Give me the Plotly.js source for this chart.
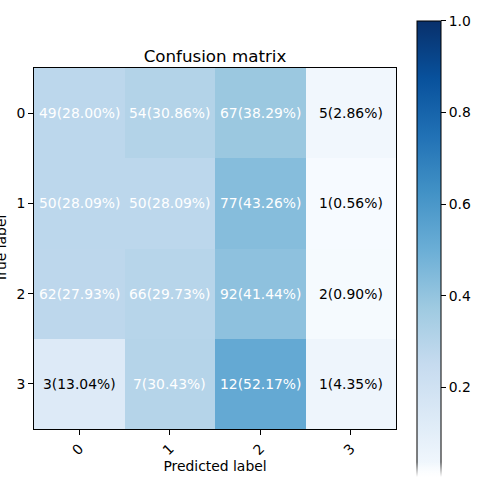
<!DOCTYPE html>
<html><head><meta charset="utf-8">
<script src="https://cdn.plot.ly/plotly-3.0.1.min.js"></script>
<style>body{margin:0;padding:0;background:#fff}#wrap{position:relative;width:500px;height:500px}#chart{width:500px;height:500px}
#fade{position:absolute;left:405px;top:462px;width:50px;height:38px;background:linear-gradient(to bottom,rgba(255,255,255,0) 0px,rgba(255,255,255,1) 15px);pointer-events:none}</style>
</head><body><div id="wrap"><div id="chart"></div><div id="fade"></div></div>
<script>
const classes = ['0','1','2','3'];
const counts = [
  [49, 54, 67, 5],
  [50, 50, 77, 1],
  [62, 66, 92, 2],
  [3, 7, 12, 1]
];
const percents = [
  [28.00, 30.86, 38.29, 2.86],
  [28.09, 28.09, 43.26, 0.56],
  [27.93, 29.73, 41.44, 0.90],
  [13.04, 30.43, 52.17, 4.35]
];
const cbTicks = [0.2, 0.4, 0.6, 0.8, 1.0];

const blues = [
  [0.0, '#f7fbff'], [0.125, '#deebf7'], [0.25, '#c6dbef'], [0.375, '#9ecae1'],
  [0.5, '#6baed6'], [0.625, '#4292c6'], [0.75, '#2171b5'], [0.875, '#08519c'], [1.0, '#08306b']
];
const z = percents.map(r => r.map(v => v / 100));
let maxv = 0; z.forEach(r => r.forEach(v => { if (v > maxv) maxv = v; }));
const thresh = maxv / 2;
const idx = classes.map((c, i) => i);
const FS = 13.9;
const annotations = [];
z.forEach((row, i) => row.forEach((v, j) => {
  annotations.push({
    x: j, y: i, xref: 'x', yref: 'y', showarrow: false,
    text: counts[i][j] + '(' + percents[i][j].toFixed(2) + '%)',
    font: {family: 'DejaVu Sans', size: FS, color: v > thresh ? '#ffffff' : '#000000'}
  });
}));
annotations.push({
  text: 'True label', xref: 'paper', yref: 'paper', x: -0.092, y: 0.5,
  xanchor: 'center', yanchor: 'middle', textangle: -90, showarrow: false,
  font: {family: 'DejaVu Sans', size: FS, color: '#000'}
});

const trace = {
  type: 'heatmap', z: z, x: idx, y: idx,
  zmin: 0, zmax: 1, colorscale: blues, hoverinfo: 'skip',
  colorbar: {
    thickness: 24, thicknessmode: 'pixels', len: 1.269, lenmode: 'fraction',
    x: 1.058, xanchor: 'left', y: 0.496, yanchor: 'middle', xpad: 0, ypad: 0,
    outlinewidth: 1, outlinecolor: '#000',
    tickvals: cbTicks, ticktext: cbTicks.map(v => v.toFixed(1)),
    ticks: 'outside', ticklen: 5, tickcolor: '#000',
    tickfont: {family: 'DejaVu Sans', size: FS, color: '#000'}
  }
};

const layout = {
  width: 500, height: 500,
  margin: {l: 34, r: 104, t: 68, b: 71},
  paper_bgcolor: '#fff', plot_bgcolor: '#fff',
  font: {family: 'DejaVu Sans', color: '#000'},
  title: {text: 'Confusion matrix', font: {size: 16.7, family: 'DejaVu Sans', color: '#000'},
          x: 0.5, xref: 'paper', xanchor: 'center', y: 1, yref: 'paper', yanchor: 'bottom', pad: {b: 6}},
  xaxis: {
    range: [-0.5, 3.5], tickvals: idx, ticktext: classes, tickangle: -45,
    ticks: 'outside', ticklen: 5, tickcolor: '#000', showgrid: false, zeroline: false,
    showline: true, linecolor: '#000', linewidth: 1, mirror: true,
    tickfont: {size: FS, family: 'DejaVu Sans'},
    title: {text: 'Predicted label', font: {size: FS, family: 'DejaVu Sans'}, standoff: 3}
  },
  yaxis: {
    range: [3.5, -0.5], tickvals: idx, ticktext: classes,
    ticks: 'outside', ticklen: 5, tickcolor: '#000', showgrid: false, zeroline: false,
    showline: true, linecolor: '#000', linewidth: 1, mirror: true,
    tickfont: {size: FS, family: 'DejaVu Sans'}
  },
  annotations: annotations
};
Plotly.newPlot('chart', [trace], layout, {displayModeBar: false, staticPlot: true});
</script></body></html>
